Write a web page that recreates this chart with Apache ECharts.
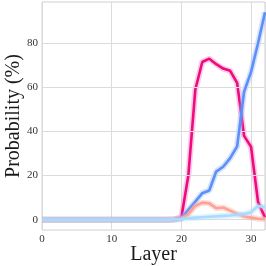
<!DOCTYPE html>
<html><head><meta charset="utf-8">
<script src="https://cdn.jsdelivr.net/npm/echarts@6/dist/echarts.min.js"></script>
<style>html,body{margin:0;padding:0;background:#fff}#c{width:266px;height:266px}</style>
</head><body><div id="c"></div>
<script>
var layers = [0,1,2,3,4,5,6,7,8,9,10,11,12,13,14,15,16,17,18,19,20,21,22,23,24,25,26,27,28,29,30,31,32];
var pinkVals = [0,0,0,0,0,0,0,0,0,0,0,0,0,0,0,0,0,0,0,0.2,1,20,59,71.5,73,70.5,68.5,67.5,62,38,33,8,1];
var blueVals = [0,0,0,0,0,0,0,0,0,0,0,0,0,0,0,0,0,0,0,0.1,0.5,4.4,8.2,12,13.2,21.8,24,27.9,33.2,58,67,80,94];
var salmonVals = [0,0,0,0,0,0,0,0,0,0,0,0,0,0,0,0,0,0,0,0.1,0.5,2.4,6.2,7.7,7.4,5.2,5.5,4.1,2.6,1.4,0.9,0.4,0.2];
var lightBlueVals = [0,0,0,0,0,0,0,0,0,0,0,0,0,0,0,0,0,0,0,0.1,0.3,0.6,0.9,1.1,1.3,1.5,1.7,1.9,2.2,2.6,3.4,6.2,5.6];
var xTicks = [0,10,20,30];
var yTicks = [0,20,40,60,80];

function pairs(v){ return layers.map(function(l,i){ return [l, v[i]]; }); }
var serif = 'Liberation Serif';
var seriesDefs = [
  {vals:pinkVals, color:'#ef0a80', halo:'rgba(240,120,190,0.38)'},
  {vals:blueVals, color:'#5b8ff9', halo:'rgba(140,175,250,0.35)'},
  {vals:salmonVals, color:'#ffa196', halo:'rgba(255,170,160,0.35)'},
  {vals:lightBlueVals, color:'#a8dcff', halo:'rgba(170,220,255,0.35)'}
];
var series = [];
seriesDefs.forEach(function(d, i){
  series.push({type:'line', data:pairs(d.vals), symbol:'none', silent:true,
    lineStyle:{color:d.halo, width:6}, z:2+2*i});
  series.push({type:'line', data:pairs(d.vals), symbol:'none', silent:true,
    lineStyle:{color:d.color, width:2.6}, z:3+2*i});
});
var chart = echarts.init(document.getElementById('c'), null, {renderer:'canvas'});
chart.setOption({
  animation:false,
  backgroundColor:'#fff',
  grid:{left:42, right:1, top:2, bottom:36, containLabel:false, outerBoundsMode:'none',
    show:true, borderColor:'#d0d0d0', borderWidth:1, backgroundColor:'transparent'},
  xAxis:{type:'value', min:0, max:32, interval:10,
    name:'Layer', nameLocation:'middle', nameGap:15, nameMoveOverlap:false,
    nameTextStyle:{fontFamily:serif, fontSize:20, color:'#1a1a1a'},
    axisLine:{show:false}, axisTick:{show:false},
    axisLabel:{fontFamily:serif, fontSize:11, color:'#333', margin:4, showMaxLabel:false,
      formatter:function(v){ return xTicks.indexOf(v)>=0 ? String(v) : ''; }},
    splitLine:{show:true, lineStyle:{color:'#dcdcdc', width:1}}},
  yAxis:{type:'value', min:-4.7, max:98.7,
    axisLabel:{fontFamily:serif, fontSize:11, color:'#333', margin:4,
      customValues:yTicks, formatter:function(v){ return String(Math.round(v)); }},
    axisTick:{show:false, customValues:yTicks},
    name:'Probability (%)', nameLocation:'middle', nameGap:18, nameRotate:90, nameMoveOverlap:false,
    nameTextStyle:{fontFamily:serif, fontSize:20, color:'#1a1a1a'},
    axisLine:{show:false},
    splitLine:{show:false}},
  series: series.concat([{type:'line', data:[], markLine:{silent:true, symbol:'none', label:{show:false},
    lineStyle:{color:'#dcdcdc', width:1, type:'solid'}, data:yTicks.map(function(t){return {yAxis:t};})}, z:1}])
});
</script></body></html>
